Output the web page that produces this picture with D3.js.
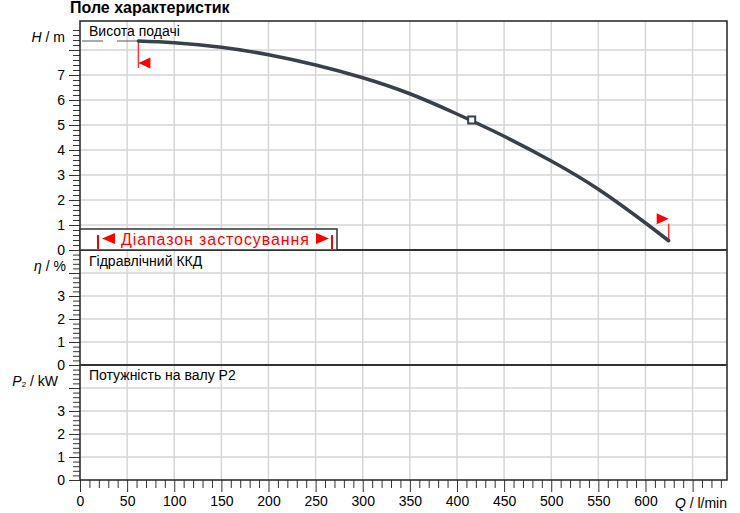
<!DOCTYPE html>
<html>
<head>
<meta charset="utf-8">
<script src="https://cdn.jsdelivr.net/npm/d3@7"></script>
<style>
  body { margin: 0; background: #fff; }
  svg { font-family: "Liberation Sans", Arial, sans-serif; }
</style>
</head>
<body>
<div id="chart"></div>
<script>
const width = 740;
const height = 513;

// pump curve
const flowQ = [62, 100, 150, 200, 250, 300, 350, 400, 450, 500, 550, 600, 624.6];
const headH = [8.36, 8.29, 8.11, 7.81, 7.40, 6.89, 6.25, 5.44, 4.55, 3.56, 2.43, 1.08, 0.37];
const dutyPoint = { q: 415.6, h: 5.2 };

const xTicks = [0, 50, 100, 150, 200, 250, 300, 350, 400, 450, 500, 550, 600];
const hTickLabels = [0, 1, 2, 3, 4, 5, 6, 7];
const hMajor = [0, 1, 2, 3, 4, 5, 6, 7, 8];
const etaTickLabels = [0, 1, 2, 3];
const etaMajor = [0, 1, 2, 3, 4];
const pTickLabels = [0, 1, 2, 3];
const pMajor = [0, 1, 2, 3, 4];

const plotLeft = 80, plotRight = 727, plotTop = 21, plotBottom = 480;
const hBottom = 250, etaBottom = 365;

const x = d3.scaleLinear().domain([0, 686.5]).range([plotLeft, plotRight]);
const yH = d3.scaleLinear().domain([0, 9.16]).range([hBottom, plotTop]);
const yEta = d3.scaleLinear().domain([0, 5]).range([etaBottom, hBottom]);
const yP = d3.scaleLinear().domain([0, 5]).range([plotBottom, etaBottom]);

const svg = d3.select("#chart").append("svg")
    .attr("width", width)
    .attr("height", height);

const gridColor = "#d6d6d6";
const ink = "#222";

// vertical grid lines, all panels
const vx = d3.range(50, 686, 50);
svg.append("g").selectAll("line")
    .data(vx)
    .enter().append("line")
    .attr("x1", d => x(d)).attr("x2", d => x(d))
    .attr("y1", plotTop).attr("y2", plotBottom)
    .attr("stroke", gridColor).attr("stroke-width", 1.5);

// horizontal grid lines per panel
function hGrid(scale, values) {
    svg.append("g").selectAll("line")
        .data(values)
        .enter().append("line")
        .attr("x1", plotLeft).attr("x2", plotRight)
        .attr("y1", d => scale(d)).attr("y2", d => scale(d))
        .attr("stroke", gridColor).attr("stroke-width", 1.5);
}
hGrid(yH, [1, 2, 3, 4, 5, 6, 7, 8]);
hGrid(yEta, [1, 2, 3, 4]);
hGrid(yP, [1, 2, 3, 4]);

// y axes: major + minor ticks
function yAxis(scale, major, labels, maxVal) {
    const minor = d3.range(0, maxVal + 0.001, 0.2).filter(v => Math.abs(v - Math.round(v)) > 0.01);
    const gMinor = svg.append("g")
        .attr("transform", `translate(${plotLeft},0)`)
        .call(d3.axisLeft(scale).tickValues(minor).tickSize(7).tickFormat(""));
    const gMajor = svg.append("g")
        .attr("transform", `translate(${plotLeft},0)`)
        .call(d3.axisLeft(scale).tickValues(major).tickSize(11).tickPadding(4)
            .tickFormat(d => labels.includes(d) ? d : ""));
    [gMinor, gMajor].forEach(g => {
        g.select(".domain").remove();
        g.selectAll("line").attr("stroke", "#333");
        g.selectAll("text").attr("font-size", 14).attr("fill", "#000")
            .attr("font-family", "Liberation Sans, Arial, sans-serif");
    });
}
yAxis(yH, hMajor, hTickLabels, 9.0);
yAxis(yEta, etaMajor, etaTickLabels, 4.8);
yAxis(yP, pMajor, pTickLabels, 4.8);

// x axis
const xMinor = d3.range(10, 686, 10).filter(v => v % 50 !== 0);
const gxMinor = svg.append("g")
    .attr("transform", `translate(0,${plotBottom})`)
    .call(d3.axisBottom(x).tickValues(xMinor).tickSize(8).tickFormat(""));
const gxMajor = svg.append("g")
    .attr("transform", `translate(0,${plotBottom})`)
    .call(d3.axisBottom(x).tickValues(d3.range(0, 686, 50)).tickSize(12).tickPadding(4)
        .tickFormat(d => xTicks.includes(d) ? d : ""));
[gxMinor, gxMajor].forEach(g => {
    g.select(".domain").remove();
    g.selectAll("line").attr("stroke", "#333");
    g.selectAll("text").attr("font-size", 14).attr("fill", "#000")
        .attr("font-family", "Liberation Sans, Arial, sans-serif");
});

// frame and panel separators
svg.append("rect")
    .attr("x", plotLeft).attr("y", plotTop)
    .attr("width", plotRight - plotLeft).attr("height", plotBottom - plotTop)
    .attr("fill", "none").attr("stroke", ink).attr("stroke-width", 1.5);
[hBottom, etaBottom].forEach(yy => {
    svg.append("line")
        .attr("x1", plotLeft).attr("x2", plotRight)
        .attr("y1", yy).attr("y2", yy)
        .attr("stroke", "#333").attr("stroke-width", 2);
});

// application range box
const rangeBox = svg.append("g");
rangeBox.append("rect")
    .attr("x", plotLeft).attr("y", 229)
    .attr("width", 257).attr("height", hBottom - 229)
    .attr("fill", "#fff").attr("stroke", "#333").attr("stroke-width", 1.5);
rangeBox.append("line")
    .attr("x1", 98).attr("x2", 98).attr("y1", 235).attr("y2", 249)
    .attr("stroke", "red").attr("stroke-width", 2);
rangeBox.append("path")
    .attr("d", "M102,238.5 L115,233 L115,244 Z").attr("fill", "red");
rangeBox.append("text")
    .attr("x", 121).attr("y", 244.5)
    .attr("font-size", 16).attr("letter-spacing", 0.9)
    .attr("fill", "red")
    .text("Діапазон застосування");
rangeBox.append("path")
    .attr("d", "M329,238.5 L316,233 L316,244 Z").attr("fill", "red");
rangeBox.append("line")
    .attr("x1", 332).attr("x2", 332).attr("y1", 235).attr("y2", 249)
    .attr("stroke", "red").attr("stroke-width", 2);

// head curve
const pts = flowQ.map((q, i) => [q, headH[i]]);
const first = pts[0], last = pts[pts.length - 1];

// leader from axis to curve start
svg.append("line")
    .attr("x1", plotLeft + 2).attr("x2", x(first[0]))
    .attr("y1", yH(first[1])).attr("y2", yH(first[1]))
    .attr("stroke", "#555").attr("stroke-width", 1)
    .attr("stroke-dasharray", "21,14");

// red range markers
svg.append("line")
    .attr("x1", x(first[0])).attr("x2", x(first[0]))
    .attr("y1", yH(first[1])).attr("y2", yH(first[1]) + 27)
    .attr("stroke", "#ff3030").attr("stroke-width", 1.5);
svg.append("path")
    .attr("d", `M${x(first[0])},${yH(first[1]) + 22} l12,-5.5 l0,11 Z`)
    .attr("fill", "red");
svg.append("line")
    .attr("x1", x(last[0])).attr("x2", x(last[0]))
    .attr("y1", yH(last[1])).attr("y2", yH(last[1]) - 17)
    .attr("stroke", "#ff3030").attr("stroke-width", 1.5);
svg.append("path")
    .attr("d", `M${x(last[0])},${yH(last[1]) - 22} l-12,-5.5 l0,11 Z`)
    .attr("fill", "red");

const line = d3.line()
    .x(d => x(d[0]))
    .y(d => yH(d[1]))
    .curve(d3.curveNatural);
svg.append("path")
    .datum(pts)
    .attr("d", line)
    .attr("fill", "none")
    .attr("stroke", "#37414b")
    .attr("stroke-width", 3.5)
    .attr("stroke-linecap", "round");

// duty point
svg.append("rect")
    .attr("x", x(dutyPoint.q) - 3.5).attr("y", yH(dutyPoint.h) - 3.5)
    .attr("width", 7).attr("height", 7)
    .attr("fill", "#fff").attr("stroke", "#37414b").attr("stroke-width", 2);

// texts
svg.append("text")
    .attr("x", 70).attr("y", 13)
    .attr("font-size", 16).attr("font-weight", "bold")
    .text("Поле характеристик");

svg.append("text").attr("x", 89).attr("y", 36).attr("font-size", 14).text("Висота подачі");
svg.append("text").attr("x", 89).attr("y", 266).attr("font-size", 14).text("Гідравлічний ККД");
svg.append("text").attr("x", 89).attr("y", 380).attr("font-size", 14).text("Потужність на валу P2");

const hLab = svg.append("text").attr("x", 65).attr("y", 42).attr("font-size", 14).attr("text-anchor", "end");
hLab.append("tspan").attr("font-style", "italic").text("H");
hLab.append("tspan").text(" / m");

const etaLab = svg.append("text").attr("x", 66).attr("y", 271).attr("font-size", 14).attr("text-anchor", "end");
etaLab.append("tspan").attr("font-style", "italic").text("η");
etaLab.append("tspan").text(" / %");

const pLab = svg.append("text").attr("x", 58).attr("y", 386).attr("font-size", 14).attr("text-anchor", "end");
pLab.append("tspan").attr("font-style", "italic").text("P");
pLab.append("tspan").attr("font-size", 8).attr("dy", 1).text("2");
pLab.append("tspan").attr("dy", -1).text(" / kW");

const qLab = svg.append("text").attr("x", 727).attr("y", 508).attr("font-size", 14).attr("text-anchor", "end");
qLab.append("tspan").attr("font-style", "italic").text("Q");
qLab.append("tspan").text(" / l/min");
</script>
</body>
</html>
